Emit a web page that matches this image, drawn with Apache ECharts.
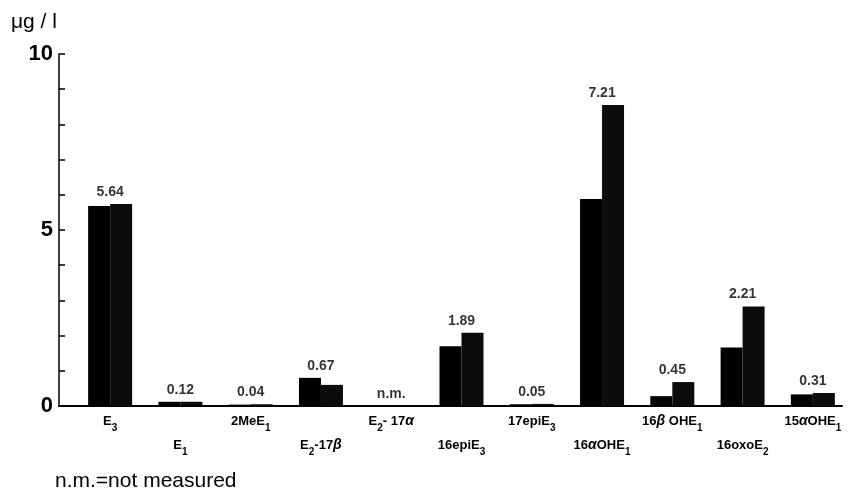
<!DOCTYPE html>
<html>
<head>
<meta charset="utf-8">
<script src="https://cdn.jsdelivr.net/npm/echarts@6/dist/echarts.min.js"></script>
<style>html,body{margin:0;padding:0;background:#fff;}#c{width:851px;height:495px;}</style>
</head>
<body>
<div id="c"></div>
<script>
// ---- data ----
var categories = ['E3','E1','2MeE1','E2-17β','E2-17α','16epiE3','17epiE3','16αOHE1','16βOHE1','16oxoE2','15αOHE1'];
var categoryLabels = ['E{s|3}','E{s|1}','2MeE{s|1}','E{s|2}-17{g|β}','E{s|2}- 17{g|α}','16epiE{s|3}','17epiE{s|3}','16{g|α}OHE{s|1}','16{g|β} OHE{s|1}','16oxoE{s|2}','15{g|α}OHE{s|1}'];
var seriesA = [5.68, 0.12, 0.04, 0.80, null, 1.70, 0.05, 5.88, 0.28, 1.66, 0.33];
var seriesB = [5.74, 0.12, 0.05, 0.60, null, 2.08, 0.06, 8.55, 0.68, 2.83, 0.37];
var printedValues = ['5.64','0.12','0.04','0.67','n.m.','1.89','0.05','7.21','0.45','2.21','0.31'];
var yTicks = [0, 5, 10];

var labelHeights = categories.map(function (c, i) {
  return Math.max(seriesA[i] || 0, seriesB[i] || 0);
});

var chart = echarts.init(document.getElementById('c'), null, {renderer: 'canvas'});
var FONT = '"Liberation Sans", Arial, Helvetica, sans-serif';
var gridTop = 54, gridBottom = 89;

chart.setOption({
  backgroundColor: '#ffffff',
  animation: false,
  title: [
    {text: 'μg / l', left: 6, top: 7, textStyle: {fontFamily: FONT, fontSize: 21, fontWeight: 'normal', color: '#000'}},
    {text: 'n.m.=not measured', left: 50, top: 466, textStyle: {fontFamily: FONT, fontSize: 21, fontWeight: 'normal', color: '#000'}}
  ],
  grid: [
    {left: 75, right: 3, top: gridTop, bottom: gridBottom},
    {left: 59, right: 9, top: gridTop, bottom: gridBottom}
  ],
  xAxis: [
    {
      gridIndex: 0, type: 'category', data: categories,
      axisLine: {show: false}, axisTick: {show: false},
      axisLabel: {
        interval: 0, margin: 3, color: '#000', fontFamily: FONT, fontSize: 13, fontWeight: 'bold',
        lineHeight: 24,
        formatter: function (v, i) {
          return (i % 2 ? '\n' : '') + categoryLabels[i];
        },
        rich: {
          s: {fontFamily: FONT, fontSize: 10, fontWeight: 'bold', color: '#000', verticalAlign: 'bottom', padding: [9, 0, 0, 0]},
          g: {fontFamily: FONT, fontSize: 14, fontWeight: 'bold', fontStyle: 'italic', color: '#000'}
        }
      }
    },
    {
      gridIndex: 1, type: 'category', data: categories,
      axisLine: {show: true, lineStyle: {color: '#000', width: 2}},
      axisTick: {show: false}, axisLabel: {show: false}
    }
  ],
  yAxis: [
    {gridIndex: 0, type: 'value', min: 0, max: 10, show: false, splitLine: {show: false}},
    {
      gridIndex: 1, type: 'value', min: 0, max: 10, interval: 1,
      axisLine: {show: true, lineStyle: {color: '#000', width: 1.5}},
      axisTick: {show: true, inside: true, length: 6, lineStyle: {color: '#000', width: 1.5}},
      splitLine: {show: false},
      axisLabel: {
        margin: 6, color: '#000', fontFamily: FONT, fontSize: 22, fontWeight: 'bold',
        formatter: function (v) { return yTicks.indexOf(v) >= 0 ? String(v) : ''; }
      }
    }
  ],
  series: [
    {type: 'bar', xAxisIndex: 0, yAxisIndex: 0, data: seriesA, barWidth: 22, barGap: '0%',
      itemStyle: {color: '#000'}},
    {type: 'bar', xAxisIndex: 0, yAxisIndex: 0, data: seriesB, barWidth: 22, barGap: '0%',
      itemStyle: {color: '#0c0c0c'}},
    {type: 'scatter', xAxisIndex: 0, yAxisIndex: 0, data: labelHeights, symbolSize: 0,
      label: {show: true, position: 'top', distance: 5, color: '#000', fontFamily: FONT, fontSize: 14, fontWeight: 'bold',
        formatter: function (p) { return printedValues[p.dataIndex]; }}}
  ]
});
</script>
</body>
</html>
